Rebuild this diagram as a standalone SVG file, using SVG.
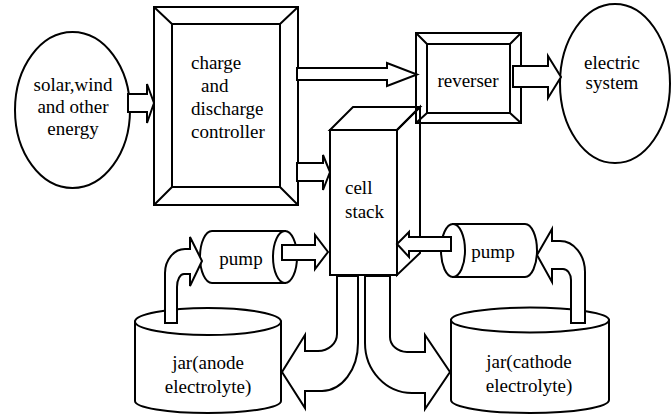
<svg xmlns="http://www.w3.org/2000/svg" width="672" height="416" viewBox="0 0 672 416">
  <style>
    .ln { fill: #ffffff; stroke: #000000; stroke-width: 2; stroke-linejoin: miter; }
    .open { fill: none; stroke: #000000; stroke-width: 2; }
    text { font-family: 'Liberation Serif', 'Times New Roman', 'DejaVu Serif', serif; font-size: 19px; fill: #000000; }
    .mid { text-anchor: middle; }
  </style>
  <rect width="672" height="416" fill="#ffffff"/>

  <!-- energy source -->
  <g id="source">
    <ellipse class="ln" cx="72.5" cy="110" rx="57.5" ry="78"/>
    <text class="mid" x="73" y="91">solar,wind</text>
    <text class="mid" x="73" y="113">and other</text>
    <text class="mid" x="73" y="135">energy</text>
  </g>

  <!-- charge / discharge controller (bevelled frame) -->
  <g id="controller">
    <rect class="ln" x="154" y="7" width="144" height="198"/>
    <rect class="ln" x="172" y="24" width="108" height="163"/>
    <path class="open" d="M154,7 L172,24 M298,7 L280,24 M154,205 L172,187 M298,205 L280,187"/>
    <text x="191" y="69">charge</text>
    <text x="201" y="92">and</text>
    <text x="191" y="115">discharge</text>
    <text x="191" y="138">controller</text>
  </g>

  <!-- reverser (bevelled frame) -->
  <g id="reverser">
    <rect class="ln" x="416" y="33" width="105" height="90"/>
    <rect class="ln" x="427" y="44" width="83" height="69"/>
    <path class="open" d="M416,33 L427,44 M521,33 L510,44 M416,123 L427,113 M521,123 L510,113"/>
    <text class="mid" x="468" y="87">reverser</text>
  </g>

  <!-- electric system -->
  <g id="electric">
    <ellipse class="ln" cx="615" cy="83.5" rx="55" ry="79.5"/>
    <text class="mid" x="612" y="69">electric</text>
    <text class="mid" x="612" y="89">system</text>
  </g>

  <!-- cell stack (box); top and side faces are outlines only -->
  <g id="stack">
    <polygon class="open" points="330,130 353,107 420,107 397,130"/>
    <polygon class="open" points="397,130 420,107 420,253 397,275"/>
    <rect class="ln" x="330" y="130" width="67" height="145"/>
    <text x="345" y="194">cell</text>
    <text x="345" y="218">stack</text>
  </g>

  <!-- pumps -->
  <g id="pump-left">
    <path class="ln" d="M285,231 H212 A12,26 0 0 0 212,283 H285 Z"/>
    <ellipse class="ln" cx="285" cy="257" rx="12" ry="26"/>
    <text class="mid" x="241" y="265">pump</text>
  </g>
  <g id="pump-right">
    <path class="ln" d="M453,224 H525 A12,26.5 0 0 1 525,277 H453 Z"/>
    <ellipse class="ln" cx="453" cy="250.5" rx="12" ry="26.5"/>
    <text class="mid" x="493" y="258">pump</text>
  </g>

  <!-- electrolyte jars -->
  <g id="jar-anode">
    <path class="ln" d="M135,321.5 V401 A73,12 0 0 0 281,401 V321.5 Z"/>
    <ellipse class="ln" cx="208" cy="321.5" rx="73" ry="13.5"/>
    <text class="mid" x="208" y="369">jar(anode</text>
    <text class="mid" x="208" y="393">electrolyte)</text>
  </g>
  <g id="jar-cathode">
    <path class="ln" d="M451,320 V400 A79,13 0 0 0 609,400 V320 Z"/>
    <ellipse class="ln" cx="530" cy="320" rx="79" ry="12.5"/>
    <text class="mid" x="529" y="368">jar(cathode</text>
    <text class="mid" x="529" y="392">electrolyte)</text>
  </g>

  <!-- block arrows -->
  <g id="connectors">
    <!-- source to controller -->
    <path class="ln" d="M128,94 H147 V84 L154,103 L147,123 V112 H128 Z"/>
    <!-- controller to reverser -->
    <path class="ln" d="M297,68 H387 V63 L417,74.5 L387,86 V80 H297 Z"/>
    <!-- controller to cell stack -->
    <path class="ln" d="M297,163 H323 V155 L330,172 L323,190 V181 H297 Z"/>
    <!-- reverser to electric system -->
    <path class="ln" d="M513,66 H548 V56 L561,77 L548,98 V87 H513 Z"/>
    <!-- left pump to cell stack -->
    <path class="ln" d="M282,245 H315 V235 L328,252 L315,269 V260 H282 Z"/>
    <!-- right pump to cell stack -->
    <path class="ln" d="M451,237 H409 V232 L397,244 L409,257 V251 H451 Z"/>
    <!-- anode jar to left pump -->
    <path class="ln" d="M165,323 V273 A20,24 0 0 1 185,249 H190 V237 L202,261 L190,286 V274 H184 A7,13 0 0 0 177,287 V323 Z"/>
    <!-- cathode jar to right pump -->
    <path class="ln" d="M585,323 V272 A25,31 0 0 0 560,241 H552 V229 L537,255 L552,282 V269 H563 A8,11 0 0 1 571,280 V323 Z"/>
    <!-- cell stack to anode jar -->
    <path class="ln" d="M337,276 V334 A19,17 0 0 1 318,351 H305 V335 L282,372 L305,408 V391 H322 A36,48 0 0 0 358,343 V276 Z"/>
    <!-- cell stack to cathode jar -->
    <path class="ln" d="M390,276 V337 A17,15 0 0 0 407,352 H425 V335 L450,372 L425,409 V393 H412 A47,50 0 0 1 365,343 V276 Z"/>
  </g>
</svg>
